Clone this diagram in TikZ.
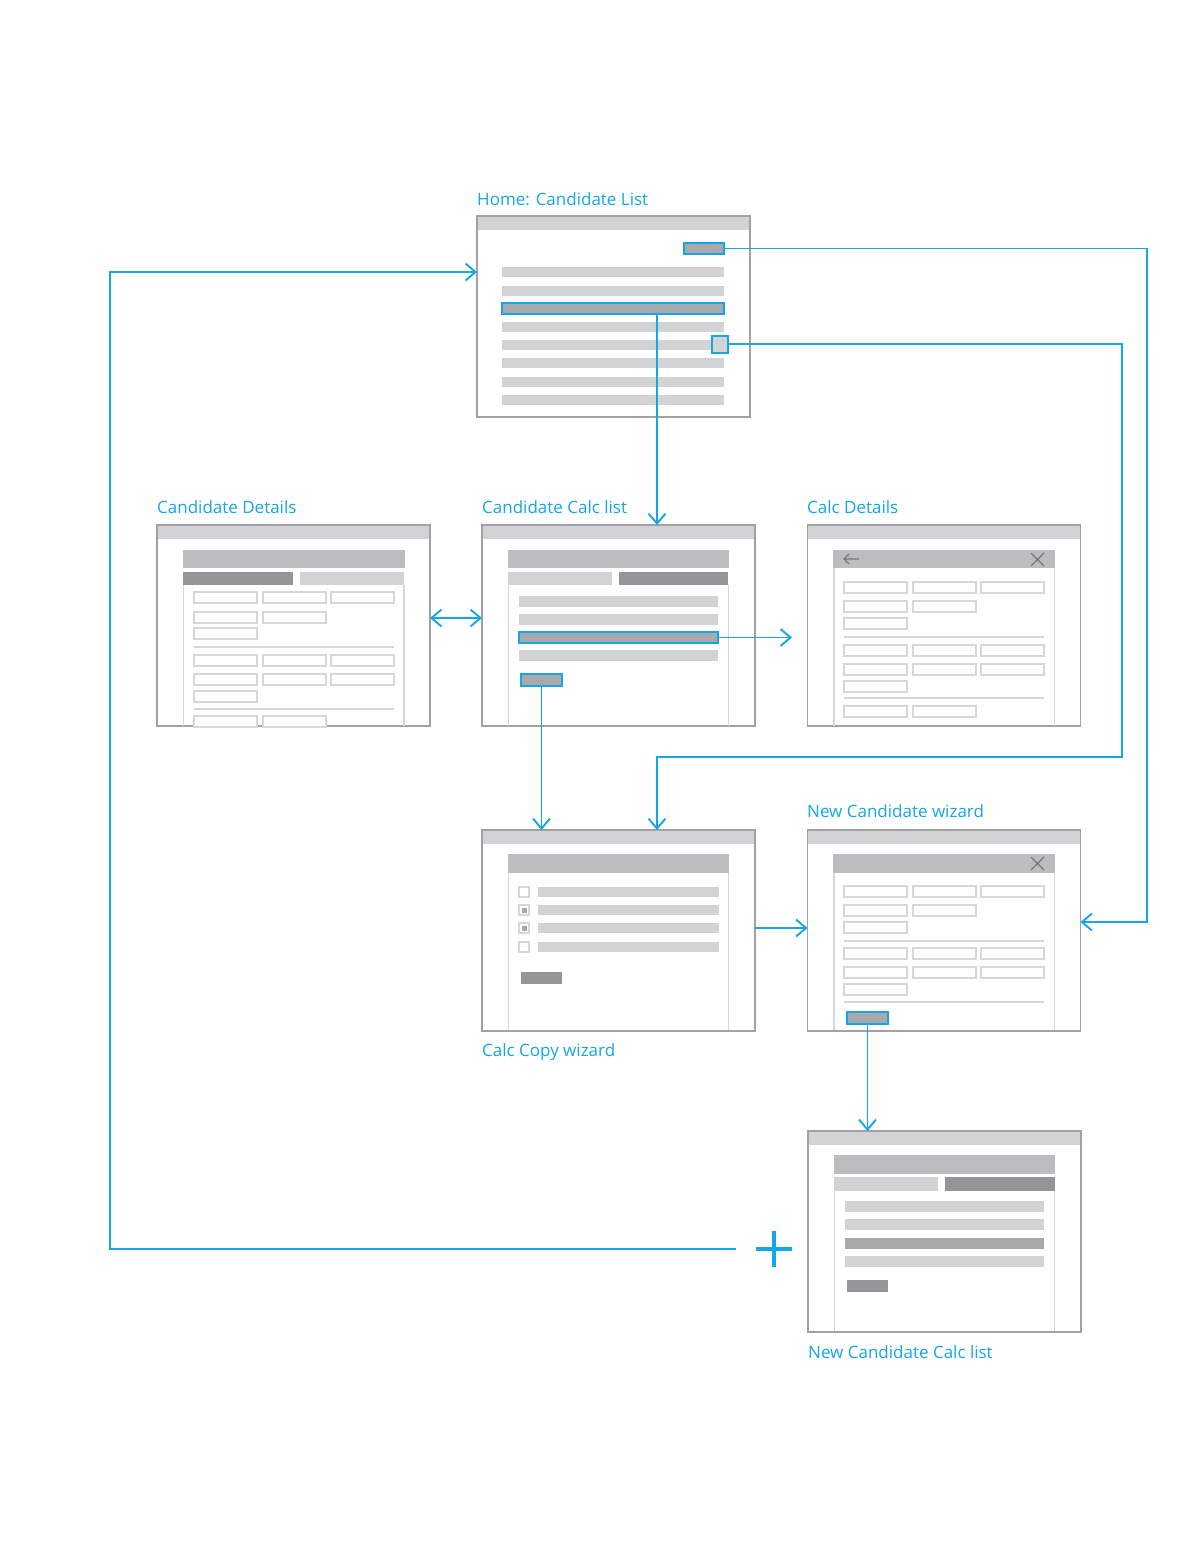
\documentclass[tikz,border=0pt]{standalone}
\usepackage{fontspec}
\setmainfont{Open Sans}
\usetikzlibrary{arrows.meta}
\definecolor{blu}{RGB}{20,166,230}
\definecolor{frm}{RGB}{160,162,165}
\definecolor{bar}{RGB}{209,211,212}
\definecolor{hdr}{RGB}{188,189,191}
\definecolor{drk}{RGB}{147,149,152}
\definecolor{mid}{RGB}{167,169,172}
\definecolor{lit}{RGB}{209,211,212}
\definecolor{fln}{RGB}{214,215,217}
\definecolor{ico}{RGB}{118,120,123}
\tikzset{
  frame/.style={draw=frm, line width=1.5pt, minimum width=273pt, minimum height=201pt, inner sep=0pt, outer sep=0pt},
  lbl/.style={text=blu, font=\fontsize{17}{20}\selectfont, anchor=base west, inner sep=0pt},
  conn/.style={draw=blu, line width=1.9pt},
  barb/.tip={Straight Barb[length=10pt,width=17pt,line width=1.9pt]},
  arr/.style={conn, -barb},
  hl/.style={draw=blu, line width=2pt, inner sep=0pt, outer sep=0pt},
  fieldst/.style={draw=fln, line width=1.3pt, fill=white},
  panel/.style={draw=fln, line width=1.2pt},
  icon/.style={draw=ico, line width=1.1pt},
}
\newcommand\screen[3]{%
  \fill[bar] (#2,#3) rectangle (#2+273,#3+14);
  \node[frame] (#1) at (#2+136.5,#3+100.5) {};}
\newcommand\fld[2]{\draw[fieldst] (#1,#2) rectangle ++(63,11);}
\begin{document}
\begin{tikzpicture}[x=1pt,y=-1pt]
\useasboundingbox (0,0) rectangle (1200,1553);

% ---------- Home: Candidate List ----------
\screen{home}{477}{216}
\node[lbl] (homeL) at (477,205.5) {Home: Candidate List};
\foreach \y in {267,286,322,340,358,377,395} \fill[lit] (502,\y) rectangle (724,\y+10);
\node[hl, fill=mid, minimum width=222pt, minimum height=11pt] (homeRow) at (613,308.5) {};
\node[hl, fill=mid, minimum width=40pt, minimum height=11pt] (homeBtn) at (704,248.5) {};
\node[hl, fill=lit, minimum width=16pt, minimum height=17pt] (homeSq) at (720,344) {};

% ---------- Candidate Details ----------
\screen{cdet}{157}{525}
\node[lbl] (cdetL) at (157,513) {Candidate Details};
\fill[hdr] (183,550) rectangle (405,568);
\fill[drk] (183,572) rectangle (293,585);
\fill[lit] (300,572) rectangle (404,585);
\draw[panel] (183.5,585) -- (183.5,726) (404,585) -- (404,726);
\foreach \x in {194,263,331} {\fld{\x}{592}\fld{\x}{655}\fld{\x}{674}}
\foreach \x in {194,263} {\fld{\x}{612}\fld{\x}{716}}
\fld{194}{628}\fld{194}{691}
\draw[panel] (194,647) -- (394,647) (194,709) -- (394,709);

% ---------- Candidate Calc list ----------
\screen{clist}{482}{525}
\node[lbl] (clistL) at (482,513) {Candidate Calc list};
\fill[hdr] (508,550) rectangle (729,568);
\fill[lit] (508,572) rectangle (612,585);
\fill[drk] (619,572) rectangle (728,585);
\draw[panel] (508.5,585) -- (508.5,726) (728.5,585) -- (728.5,726);
\foreach \y in {596,614,650} \fill[lit] (519,\y) rectangle (718,\y+11);
\node[hl, fill=mid, minimum width=199pt, minimum height=11pt] (calcRow) at (618.5,637.5) {};
\node[hl, fill=mid, minimum width=41pt, minimum height=12pt] (calcBtn) at (541.5,680) {};

% ---------- Calc Details ----------
\screen{cdetl}{807.5}{525}
\node[lbl] (cdetlL) at (807,513) {Calc Details};
\fill[hdr] (833,550) rectangle (1055,568);
\draw[panel] (834,568) -- (834,726) (1054.5,568) -- (1054.5,726);
\draw[icon] (859,559) -- (844,559) (849,554) -- (844,559) -- (849,564);
\draw[icon] (1031,553) -- (1044,566) (1031,566) -- (1044,553);
\foreach \x in {844,913,981} {\fld{\x}{582}\fld{\x}{645}\fld{\x}{664}}
\foreach \x in {844,913} {\fld{\x}{601}\fld{\x}{706}}
\fld{844}{618}\fld{844}{681}
\draw[panel] (844,637) -- (1044,637) (844,698) -- (1044,698);

% ---------- Calc Copy wizard ----------
\screen{copy}{482}{830}
\node[lbl] (copyL) at (482,1056) {Calc Copy wizard};
\fill[hdr] (508,854) rectangle (729,873);
\draw[panel] (508.5,873) -- (508.5,1030) (728.5,873) -- (728.5,1030);
\foreach \y in {887,905,923,942} {
  \draw[fieldst] (519,\y) rectangle ++(10,10);
  \fill[lit] (538,\y) rectangle (719,\y+10);}
\fill[mid] (521.5,907.5) rectangle ++(5,5);
\fill[mid] (521.5,925.5) rectangle ++(5,5);
\fill[drk] (521,972) rectangle (562,984);

% ---------- New Candidate wizard ----------
\screen{nwiz}{807.5}{830}
\node[lbl] (nwizL) at (807,817) {New Candidate wizard};
\fill[hdr] (833,854) rectangle (1055,873);
\draw[panel] (834,873) -- (834,1030) (1054.5,873) -- (1054.5,1030);
\draw[icon] (1031,857) -- (1044,870) (1031,870) -- (1044,857);
\foreach \x in {844,913,981} {\fld{\x}{886}\fld{\x}{948}\fld{\x}{967}}
\foreach \x in {844,913} {\fld{\x}{905}}
\fld{844}{922}\fld{844}{984}
\draw[panel] (844,941) -- (1044,941) (844,1002) -- (1044,1002);
\node[hl, fill=mid, minimum width=41pt, minimum height=12pt] (wizBtn) at (867.5,1018) {};

% ---------- New Candidate Calc list ----------
\screen{nlist}{808}{1131}
\node[lbl] (nlistL) at (808,1358) {New Candidate Calc list};
\fill[hdr] (834,1155) rectangle (1055,1174);
\fill[lit] (834,1177) rectangle (938,1191);
\fill[drk] (945,1177) rectangle (1055,1191);
\draw[panel] (834.5,1191) -- (834.5,1331) (1054.5,1191) -- (1054.5,1331);
\foreach \y in {1201,1219,1256} \fill[lit] (845,\y) rectangle (1044,\y+11);
\fill[mid] (845,1238) rectangle (1044,1249);
\fill[drk] (847,1280) rectangle (888,1292);

% ---------- plus ----------
\node[minimum size=35pt, inner sep=0pt] (plus) at (774,1249) {};
\draw[blu, line width=4pt] (plus.north) -- (plus.south) (plus.west) -- (plus.east);

% ---------- connectors ----------
\coordinate (v1) at (657,0);
\draw[arr] (homeRow.south -| v1) -- (clist.north -| v1);
\coordinate (r1) at (1147,922);
\draw[arr] (homeBtn.east) -| (r1) -- (nwiz.east |- r1);
\coordinate (r2) at (1122,757);
\draw[arr] (homeSq.east) -| (r2) -| (copy.north -| v1);
\coordinate (h1) at (0,618);
\draw[conn, barb-barb] (cdet.east |- h1) -- (clist.west |- h1);
\coordinate (t1) at (792,0);
\draw[arr] (calcRow.east) -- (t1 |- calcRow.east);
\draw[arr] (calcBtn.south) -- (copy.north -| calcBtn);
\coordinate (h2) at (0,928);
\draw[arr] (copy.east |- h2) -- (nwiz.west |- h2);
\draw[arr] (wizBtn.south) -- (nlist.north -| wizBtn);
\coordinate (l1) at (110,272);
\draw[arr] ([xshift=-20pt]plus.west) -| (l1) -- (home.west |- l1);
\end{tikzpicture}
\end{document}
